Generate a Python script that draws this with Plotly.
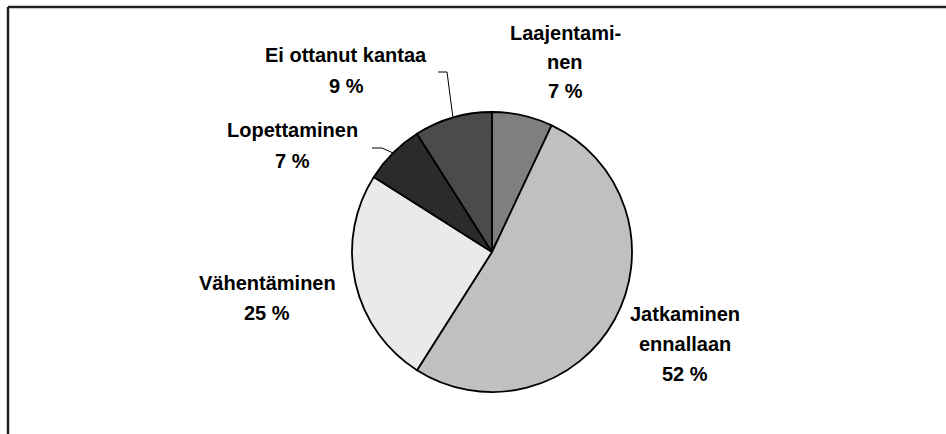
import math
import plotly.graph_objects as go

# ---- data ----
categories = ["Laajentaminen", "Jatkaminen ennallaan", "Vähentäminen", "Lopettaminen", "Ei ottanut kantaa"]
values = [7, 52, 25, 7, 9]
label_lines = [
    ["Laajentami-", "nen", "7 %"],
    ["Jatkaminen", "ennallaan", "52 %"],
    ["Vähentäminen", "25 %"],
    ["Lopettaminen", "7 %"],
    ["Ei ottanut kantaa", "9 %"],
]
colors = ["#7f7f7f", "#c0c0c0", "#eaeaea", "#2b2b2b", "#4b4b4b"]

# ---- layout constants (pixels) ----
W, H = 946, 434
CX, CY, R = 492, 252, 140
label_pos = [(565, 33), (685, 314), (267, 283), (292, 130), (346, 55)]
line_gap = [29, 30, 30, 31, 31]
leader = {3: (382, 148, 372), 4: (447, 72, 438)}  # elbow x, elbow y, end x

def px(x):
    return x / W

def py(y):
    return 1 - y / H

fig = go.Figure(go.Pie(
    labels=categories,
    values=values,
    sort=False,
    direction="clockwise",
    rotation=0,
    marker=dict(colors=colors, line=dict(color="black", width=1.8)),
    textinfo="none",
    hoverinfo="label+percent",
    showlegend=False,
    domain=dict(x=[px(CX - R), px(CX + R)], y=[py(CY + R), py(CY - R)]),
))

annotations = []
for i, lines in enumerate(label_lines):
    lx, ly = label_pos[i]
    for j, t in enumerate(lines):
        annotations.append(dict(
            x=px(lx), y=py(ly + j * line_gap[i]), xref="paper", yref="paper",
            text=t, showarrow=False, xanchor="center", yanchor="middle",
            font=dict(family="Liberation Sans, Arial, sans-serif", size=20, color="black", weight="bold"),
        ))

shapes = []
total = sum(values)
cum = 0
for i, v in enumerate(values):
    mid = (cum + v / 2) / total * 2 * math.pi
    cum += v
    if i in leader:
        ex = CX + R * math.sin(mid)
        ey = CY - R * math.cos(mid)
        bx, by, tx = leader[i]
        path = f"M {px(ex)} {py(ey)} L {px(bx)} {py(by)} L {px(tx)} {py(by)}"
        shapes.append(dict(type="path", xref="paper", yref="paper", path=path,
                           line=dict(color="black", width=1)))

# frame (top and left edges visible)
shapes.append(dict(type="line", xref="paper", yref="paper", x0=px(8), x1=1.0, y0=py(7), y1=py(7),
                   line=dict(color="#222222", width=2.5)))
shapes.append(dict(type="line", xref="paper", yref="paper", x0=px(8), x1=px(8), y0=py(7), y1=0,
                   line=dict(color="#222222", width=2.5)))

fig.update_layout(
    width=W, height=H,
    margin=dict(l=0, r=0, t=0, b=0),
    paper_bgcolor="white", plot_bgcolor="white",
    annotations=annotations, shapes=shapes,
)

fig.write_html("out.html", config={"displayModeBar": False},
               post_script="document.body.style.margin='0';")
